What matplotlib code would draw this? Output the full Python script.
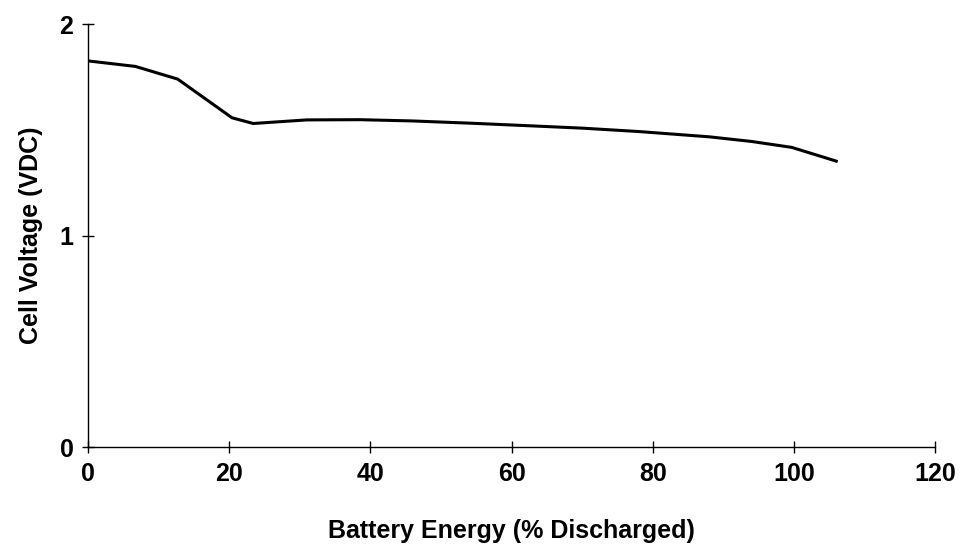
import matplotlib
matplotlib.use('Agg')
import matplotlib.pyplot as plt

# discharge curve
energy = [0, 6.7, 12.7, 20.4, 23.4, 31, 38.5, 46, 54.5, 62, 70, 78, 88, 94, 99.7, 106]
voltage = [1.826, 1.80, 1.74, 1.557, 1.53, 1.547, 1.548, 1.542, 1.531, 1.52, 1.508, 1.492, 1.467, 1.445, 1.417, 1.352]

x_ticks = [0, 20, 40, 60, 80, 100, 120]
y_ticks = [0, 1, 2]

plt.rcParams['font.family'] = ['Liberation Sans', 'DejaVu Sans']

fig = plt.figure(figsize=(9.62, 5.48), dpi=100)
ax = fig.add_axes([0.0915, 0.1843, 0.8805, 0.7717])
ax.plot(energy, voltage, color='black', linewidth=2.2)

ax.set_xlim(0, 120)
ax.set_ylim(0, 2)
ax.set_xticks(x_ticks)
ax.set_yticks(y_ticks)
ax.spines['top'].set_visible(False)
ax.spines['right'].set_visible(False)
ax.spines['left'].set_linewidth(1.0)
ax.spines['bottom'].set_linewidth(1.0)
ax.tick_params(direction='inout', length=9, width=1.0, labelsize=18, pad=6)
for lbl in ax.get_xticklabels() + ax.get_yticklabels():
    lbl.set_fontweight('semibold')

ax.set_xlabel('Battery Energy (% Discharged)', fontsize=18, fontweight='bold', labelpad=24)
ax.set_ylabel('Cell Voltage (VDC)', fontsize=18, fontweight='bold', labelpad=12)

fig.savefig('out.png', dpi=100)
